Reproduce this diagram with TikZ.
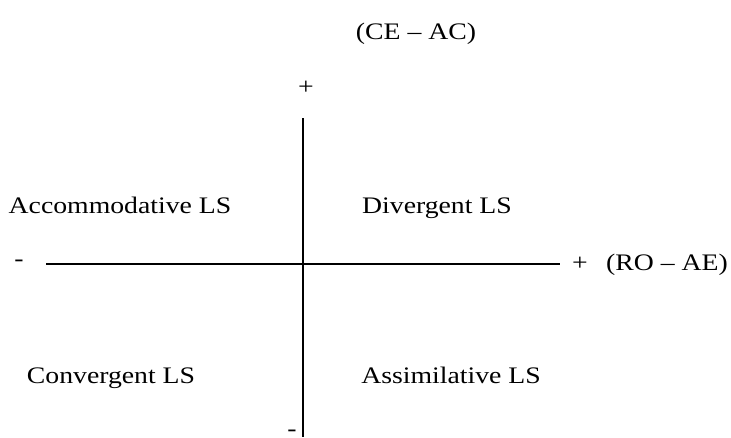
\documentclass[tikz,border=0pt]{standalone}
\usepackage{fontspec}
\setmainfont{Liberation Serif}
\usetikzlibrary{positioning}

\begin{document}
\begin{tikzpicture}[
			x=1pt, y=-1pt,
			every node/.style={
					inner sep=0pt,
					outer sep=0pt,
					anchor=base,
					xscale=1.17,
					font=\fontsize{23.7}{28}\selectfont
				},
			axis/.style={line width=1.6pt}
		]
		\useasboundingbox (0,0) rectangle (731,437);

		% axes
		\coordinate (ytop) at (303,118);
		\coordinate (ybot) at (303,437);
		\coordinate (xleft) at (46,264);
		\coordinate (xright) at (560,264);
		\draw[axis] (ytop) -- (ybot);
		\draw[axis] (xleft) -- (xright);

		% axis ends
		\node (ylabel) at (416,39) {(CE -- AC)};
		\node (yplus) at (306,94) {+};
		\node (yminus) at (292,436) {-};
		\node (xminus) at (19,266) {-};
		\node (xplus) at (580,270) {+};
		\node (xlabel) at (667,270) {(RO -- AE)};

		% quadrants
		\node (accom) at (120,213) {Accommodative LS};
		\node (diverg) at (437,213) {Divergent LS};
		\node (converg) at (111,383) {Convergent LS};
		\node (assim) at (451,383) {Assimilative LS};

	\end{tikzpicture}
\end{document}
